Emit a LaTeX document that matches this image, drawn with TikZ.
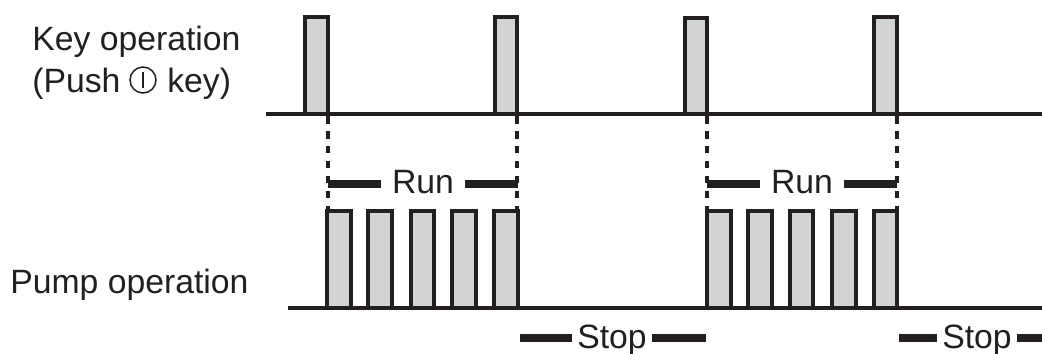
\documentclass[tikz,border=0pt]{standalone}
\usepackage{fontspec}
\setmainfont{Liberation Sans}
\usepackage{xcolor}
\definecolor{inkblack}{HTML}{231F20}
\definecolor{pulsegray}{HTML}{D1D3D4}
\tikzset{
  wave/.style={line width=0.08cm, inkblack, line join=miter},
  guide/.style={line width=0.085cm, inkblack, dash pattern=on 0.15cm off 0.15cm},
  bar/.style={line width=0.15cm, inkblack},
  lbl/.style={inner sep=0pt, text=inkblack, font=\fontsize{19.2}{19.2}\selectfont, anchor=base west},
  runlbl/.style={inner ysep=0pt, inner xsep=0.22cm, text=inkblack, font=\fontsize{19.2}{19.2}\selectfont, anchor=base},
  stoplbl/.style={inner ysep=0pt, inner xsep=0.1cm, text=inkblack, font=\fontsize{19.2}{19.2}\selectfont, anchor=base},
}
\begin{document}
\begin{tikzpicture}[x=0.02cm,y=-0.02cm]
\useasboundingbox (0,0) rectangle (1042,353);

% Labels on the left
\node[lbl] (keylabel) at (32,50) {Key operation};
\node[lbl] (pushlabel) at (32,92) {(Push};
\node[circle, draw=inkblack, line width=0.03cm, minimum size=0.52cm, inner sep=0pt] (keysymbol) at (143,80) {};
\draw[inkblack, line width=0.03cm] (keysymbol.center) ++(0,-8) -- ++(0,16);
\node[lbl] (keyword) at (167,92) {key)};
\node[lbl] (pumplabel) at (10,293) {Pump operation};

% Key operation pulses
\foreach \a/\b/\t in {305/328/16.5, 495/517/16.5, 685/707/17.5, 874/897/16.5} {
  \fill[pulsegray] (\a,\t) rectangle (\b,113.5);
  \draw[wave] (\a,113.5) -- (\a,\t) -- (\b,\t) -- (\b,113.5);
}
\draw[wave] (266,113.5) -- (1042,113.5);

% Pump operation pulses
\foreach \a/\b in {327/351, 368/392, 411/434, 452/476, 494/518, 707/731, 748/772, 790/813, 832/856, 874/897} {
  \fill[pulsegray] (\a,211) rectangle (\b,307.5);
  \draw[wave] (\a,307.5) -- (\a,211) -- (\b,211) -- (\b,307.5);
}
\draw[wave] (288,307.5) -- (1042,307.5);

% Dashed guides
\foreach \x in {328,517,707,897} {
  \draw[guide] (\x,116) -- (\x,209);
}

% Run labels
\node[runlbl] (runa) at (423,193) {Run};
\coordinate (runaleft) at (328,184);
\coordinate (runaright) at (518,184);
\draw[bar] (runaleft) -- (runaleft -| runa.west);
\draw[bar] (runa.east |- runaright) -- (runaright);
\node[runlbl] (runb) at (802,193) {Run};
\coordinate (runbleft) at (707,184);
\coordinate (runbright) at (897,184);
\draw[bar] (runbleft) -- (runbleft -| runb.west);
\draw[bar] (runb.east |- runbright) -- (runbright);

% Stop labels
\node[stoplbl] (stopa) at (612,348) {Stop};
\coordinate (stopaleft) at (520,338);
\coordinate (stoparight) at (706,338);
\draw[bar] (stopaleft) -- (stopaleft -| stopa.west);
\draw[bar] (stopa.east |- stoparight) -- (stoparight);
\node[stoplbl] (stopb) at (977,348) {Stop};
\coordinate (stopbleft) at (899,338);
\coordinate (stopbright) at (1042,338);
\draw[bar] (stopbleft) -- (stopbleft -| stopb.west);
\draw[bar] (stopb.east |- stopbright) -- (stopbright);
\end{tikzpicture}
\end{document}
